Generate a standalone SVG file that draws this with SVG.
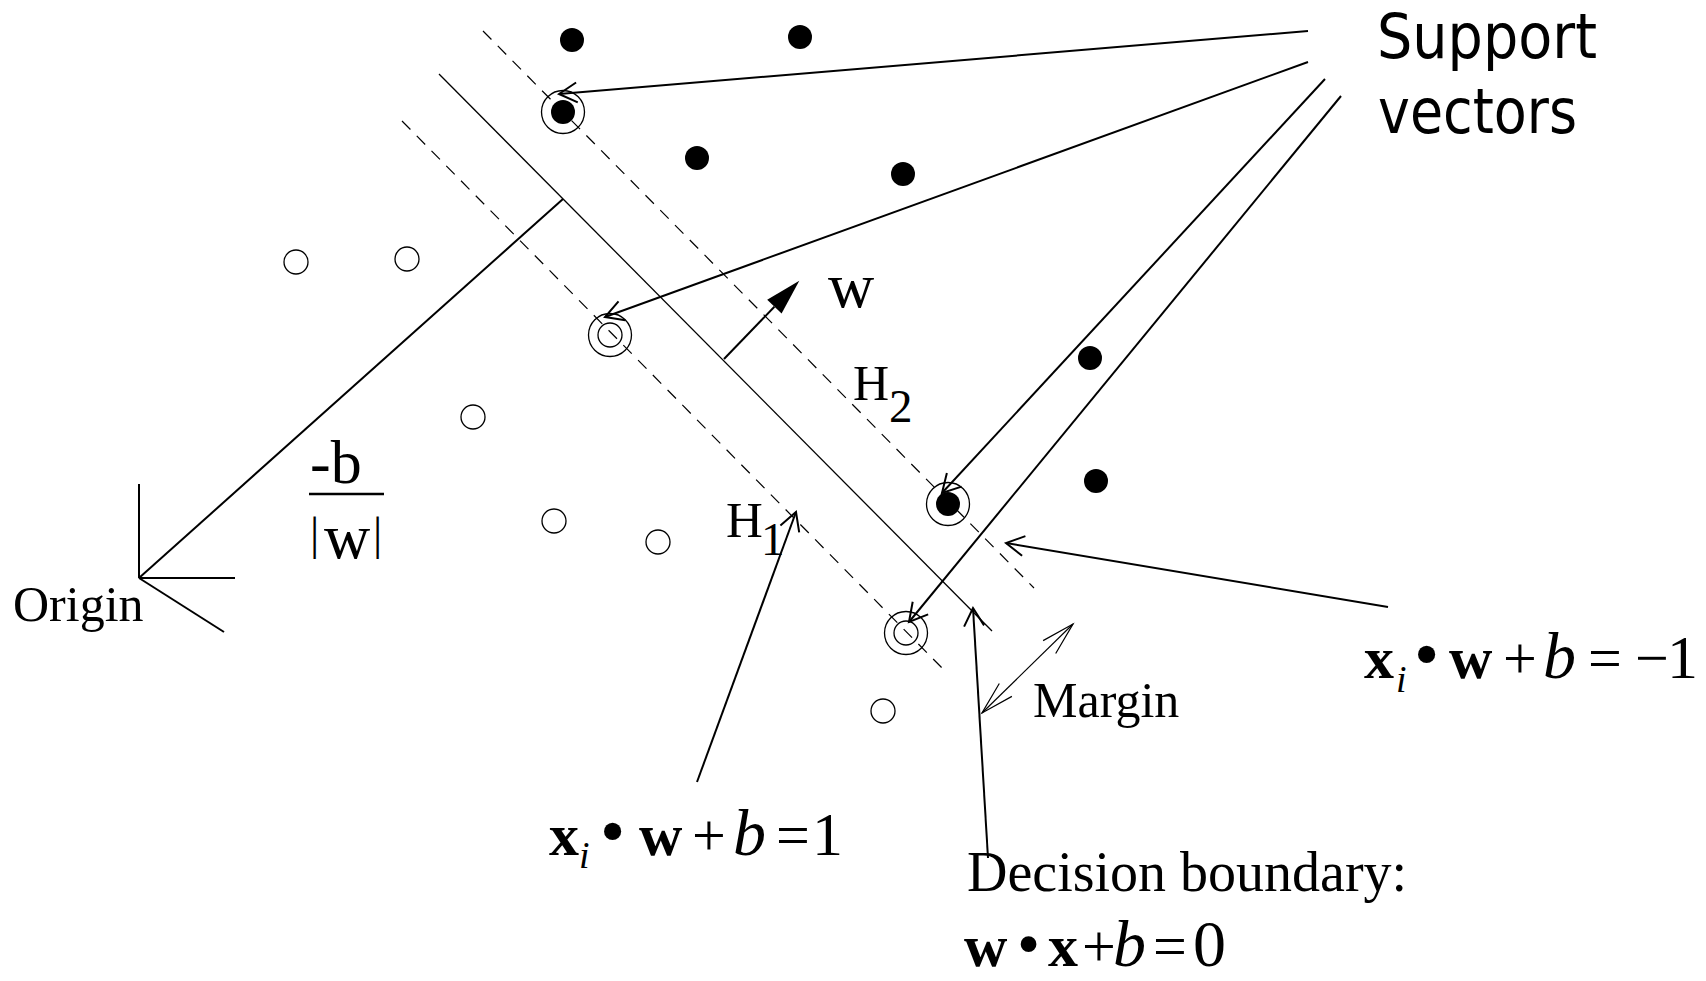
<svg xmlns="http://www.w3.org/2000/svg" width="1706" height="981" viewBox="0 0 1706 981">
<defs>
<style>
.serif{font-family:"Liberation Serif","Times New Roman",serif;fill:#000}
.sans{font-family:"DejaVu Sans","Liberation Sans",sans-serif;fill:#000}
.b{font-weight:bold}
.i{font-style:italic}
.dot{fill:#000}
.hollow{fill:none;stroke:#000;stroke-width:1.3}
.ring{fill:none;stroke:#000;stroke-width:1.3}
.dash{fill:none;stroke:#000;stroke-width:1.2;stroke-dasharray:12 9}
.thin{fill:none;stroke:#000;stroke-width:1.3}
.arr{fill:none;stroke:#000;stroke-width:2;marker-end:url(#open)}
.bold2{fill:none;stroke:#000;stroke-width:2}
</style>
<marker id="open" viewBox="-22 -12 26 24" refX="0" refY="0" markerWidth="26" markerHeight="24" markerUnits="userSpaceOnUse" orient="auto">
<path d="M-18,-10 L0,0 L-18,10" fill="none" stroke="#000" stroke-width="2"/>
</marker>
<marker id="mopen" viewBox="-36 -12 40 24" refX="0" refY="0" markerWidth="40" markerHeight="24" markerUnits="userSpaceOnUse" orient="auto-start-reverse">
<path d="M-33,-9 L0,0 L-33,9" fill="none" stroke="#000" stroke-width="1.2"/>
</marker>
</defs>
<rect width="1706" height="981" fill="#fff"/>

<g id="hyperplanes">
<line class="dash" x1="483" y1="31" x2="1034" y2="588"/>
<line class="thin" x1="439" y1="74" x2="992" y2="631"/>
<line class="dash" x1="402" y1="121" x2="947" y2="673"/>
</g>

<g id="positive-points">
<circle class="dot" cx="572" cy="40" r="12"/>
<circle class="dot" cx="800" cy="37" r="12"/>
<circle class="dot" cx="697" cy="158" r="12"/>
<circle class="dot" cx="903" cy="174" r="12"/>
<circle class="dot" cx="1090" cy="358" r="12"/>
<circle class="dot" cx="1096" cy="481" r="12"/>
</g>
<g id="negative-points">
<circle class="hollow" cx="296" cy="262" r="12"/>
<circle class="hollow" cx="407" cy="259" r="12"/>
<circle class="hollow" cx="473" cy="417" r="12"/>
<circle class="hollow" cx="554" cy="521" r="12"/>
<circle class="hollow" cx="658" cy="542" r="12"/>
<circle class="hollow" cx="883" cy="711" r="12"/>
</g>
<g id="support-vector-1">
<circle class="dot" cx="563" cy="112" r="12"/>
<circle class="ring" cx="563" cy="112" r="21.5"/>
</g>
<g id="support-vector-2">
<circle class="hollow" cx="610" cy="335" r="12"/>
<circle class="ring" cx="610" cy="335" r="21.5"/>
</g>
<g id="support-vector-3">
<circle class="dot" cx="948" cy="504" r="12"/>
<circle class="ring" cx="948" cy="504" r="21.5"/>
</g>
<g id="support-vector-4">
<circle class="hollow" cx="906" cy="633" r="12"/>
<circle class="ring" cx="906" cy="633" r="21.5"/>
</g>

<g id="origin">
<line class="bold2" x1="139" y1="484" x2="139" y2="578"/>
<line class="bold2" x1="139" y1="578" x2="235" y2="578"/>
<line class="bold2" x1="139" y1="578" x2="224" y2="632"/>
<text class="serif" x="13" y="621" font-size="50">Origin</text>
</g>

<g id="connectors">
<line class="bold2" x1="563" y1="199" x2="139" y2="578"/>
<line class="bold2" x1="724" y1="359" x2="774.4" y2="306.7"/>
<polygon points="799.3,280.7 781.6,313.6 767.2,299.8" fill="#000"/>
<line class="arr" x1="1308" y1="31" x2="559" y2="94"/>
<line class="arr" x1="1308" y1="62" x2="605" y2="317"/>
<line class="arr" x1="1325" y1="79" x2="942" y2="493"/>
<line class="arr" x1="1341" y1="96" x2="909" y2="622"/>
<line class="arr" x1="1388" y1="607" x2="1006" y2="543"/>
<line class="arr" x1="697" y1="782" x2="796" y2="512"/>
<line class="arr" x1="988" y1="858" x2="973" y2="608"/>
<line x1="982" y1="713" x2="1073" y2="624" stroke="#000" stroke-width="1.2" marker-start="url(#mopen)" marker-end="url(#mopen)"/>
</g>

<g id="label-support-vectors">
<text class="sans" x="1377" y="58" font-size="62" textLength="220" lengthAdjust="spacingAndGlyphs">Support</text>
<text class="sans" x="1378" y="133" font-size="62" textLength="199" lengthAdjust="spacingAndGlyphs">vectors</text>
</g>

<g id="label-w">
<text class="serif" x="828" y="307" font-size="64">w</text>
</g>

<g id="label-h2">
<text class="serif" font-size="50"><tspan x="853" y="400">H</tspan><tspan x="889" y="422" font-size="47">2</tspan></text>
</g>
<g id="label-h1">
<text class="serif" font-size="51"><tspan x="726" y="537">H</tspan><tspan x="761" y="555" font-size="47">1</tspan></text>
</g>

<g id="label-distance">
<text class="serif" x="310" y="483" font-size="62">-b</text>
<line x1="309" y1="494" x2="384" y2="494" stroke="#000" stroke-width="2.5"/>
<text class="serif" font-size="64"><tspan x="310" y="549" font-size="46">|</tspan><tspan x="324" y="558">w</tspan><tspan x="373" y="549" font-size="46">|</tspan></text>
</g>

<g id="label-margin">
<text class="serif" x="1033" y="717" font-size="50">Margin</text>
</g>

<g id="label-decision">
<text class="serif" x="967" y="891" font-size="56">Decision boundary:</text>
<text class="serif" font-size="60"><tspan x="964" y="966" class="b" font-size="60">w</tspan><tspan x="1017" y="966" font-size="66">•</tspan><tspan x="1048" y="966" class="b" font-size="60">x</tspan><tspan x="1082" y="966">+</tspan><tspan x="1113" y="966" class="i" font-size="66">b</tspan><tspan x="1153" y="966">=</tspan><tspan x="1193" y="966" font-size="66">0</tspan></text>
</g>

<g id="label-eq-plus">
<text class="serif" font-size="60"><tspan x="549" y="855" class="b" font-size="60">x</tspan><tspan x="579" y="868" class="i" font-size="38">i</tspan><tspan x="600" y="855" font-size="72">•</tspan><tspan x="639" y="855" class="b" font-size="60">w</tspan><tspan x="692" y="855">+</tspan><tspan x="733" y="855" class="i" font-size="66">b</tspan><tspan x="776" y="855">=</tspan><tspan x="812" y="855" font-size="62">1</tspan></text>
</g>

<g id="label-eq-minus">
<text class="serif" font-size="60"><tspan x="1364" y="678" class="b" font-size="60">x</tspan><tspan x="1396" y="692" class="i" font-size="38">i</tspan><tspan x="1414" y="678" font-size="72">•</tspan><tspan x="1449" y="678" class="b" font-size="60">w</tspan><tspan x="1503" y="678">+</tspan><tspan x="1543" y="678" class="i" font-size="66">b</tspan><tspan x="1588" y="678">=</tspan><tspan x="1635" y="678">−</tspan><tspan x="1667" y="678" font-size="62">1</tspan></text>
</g>
</svg>
